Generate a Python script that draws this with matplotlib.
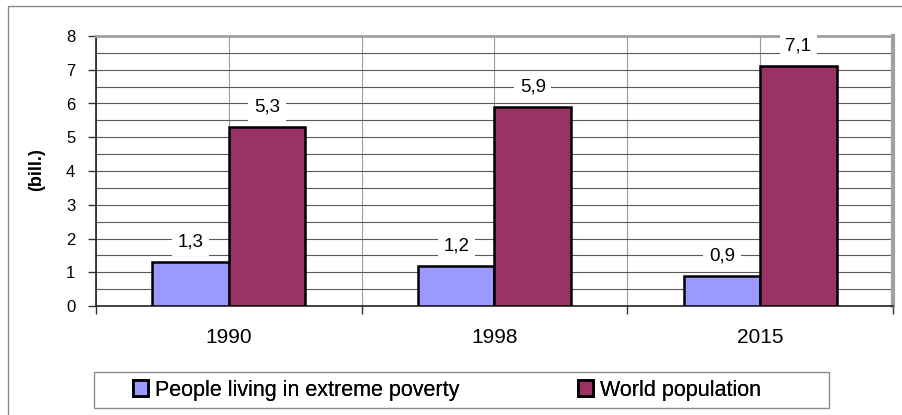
import matplotlib
matplotlib.use("Agg")
import matplotlib.pyplot as plt
from matplotlib.patches import Patch, Rectangle
from matplotlib.ticker import MultipleLocator, FixedLocator
import numpy as np

plt.rcParams['font.family'] = ['Liberation Sans', 'DejaVu Sans']

years = ["1990", "1998", "2015"]
poverty = [1.3, 1.2, 0.9]
population = [5.3, 5.9, 7.1]
series_names = ["People living in extreme poverty", "World population"]
y_ticks = [0, 1, 2, 3, 4, 5, 6, 7, 8]

blue = "#9999FF"
plum = "#993366"

W, H = 902, 415
fig = plt.figure(figsize=(W / 100, H / 100), dpi=100)

# outer chart frame (only left and top edges fall inside the canvas)
fig.patches.append(Rectangle((8 / W, -0.1), 1.2, 1 - 6 / H + 0.1,
                             transform=fig.transFigure, fill=False,
                             edgecolor="#8a8a8a", linewidth=1.0))

ax = fig.add_axes([96 / W, 1 - 306 / H, (893 - 96) / W, (306 - 36) / H])
x = np.arange(len(years))
w = 0.288

ax.set_axisbelow(True)
b1 = ax.bar(x - w / 2, poverty, w, color=blue, edgecolor="black",
            linewidth=1.8, zorder=3)
b2 = ax.bar(x + w / 2, population, w, color=plum, edgecolor="black",
            linewidth=1.8, zorder=3)

ax.set_xlim(-0.5, len(years) - 0.5)
ax.set_ylim(0, 8)

# y axis
ax.yaxis.set_major_locator(FixedLocator(y_ticks))
ax.yaxis.set_minor_locator(MultipleLocator(0.5))
ax.tick_params(axis="y", which="major", length=6, width=1, direction="out",
               pad=9.0, labelsize=12, color="#333333")
ax.tick_params(axis="y", which="minor", length=0)
ax.grid(axis="y", which="both", color="#5a5a5a", linewidth=0.8)

# x axis: labels at category centres, ticks at category boundaries
ax.set_xticks(x)
ax.set_xticklabels(years)
ax.xaxis.set_minor_locator(FixedLocator(np.arange(-0.5, len(years), 1.0)))
ax.tick_params(axis="x", which="major", length=0, pad=16, labelsize=15)
ax.tick_params(axis="x", which="minor", length=6, width=1, color="#333333")
ax.grid(axis="x", which="both", color="#9a9a9a", linewidth=0.8)

for side in ("left", "bottom"):
    ax.spines[side].set_color("#222222")
    ax.spines[side].set_linewidth(1.2)
ax.spines["top"].set_color("#a0a0a0")
ax.spines["top"].set_linewidth(2.0)
ax.spines["right"].set_color("#a0a0a0")
ax.spines["right"].set_linewidth(3.0)

ax.set_ylabel("(bill.)", fontsize=13, fontweight="bold")
ax.yaxis.set_label_coords(-(96 - 45) / (893 - 96), 0.505)

# value labels
for bars, vals in ((b1, poverty), (b2, population)):
    for rect, v in zip(bars, vals):
        ax.annotate(f"{v:.1f}".replace(".", ","),
                    xy=(rect.get_x() + rect.get_width() / 2, v),
                    xytext=(0, 20), textcoords="offset pixels",
                    ha="center", va="center", fontsize=13.5, zorder=4,
                    bbox=dict(boxstyle="square,pad=0.3", facecolor="white",
                              edgecolor="none"))

# legend box with one entry per series
fig.patches.append(Rectangle((94 / W, 1 - 408 / H), (829 - 94) / W, (408 - 372) / H,
                             transform=fig.transFigure, facecolor="white",
                             edgecolor="#8a8a8a", linewidth=1.0))
handles = [Patch(facecolor=blue, edgecolor="black", linewidth=2.0),
           Patch(facecolor=plum, edgecolor="black", linewidth=2.0)]
entry_left = [133, 578]
for h, name, xl in zip(handles, series_names, entry_left):
    lg = fig.legend([h], [name], loc="center left",
                    bbox_to_anchor=(xl / W, 1 - 390 / H),
                    fontsize=15.5, frameon=False,
                    handlelength=0.7, handleheight=0.7,
                    handletextpad=0.3, borderaxespad=0, borderpad=0)
    fig.add_artist(lg)

fig.savefig("out.png", dpi=100)
